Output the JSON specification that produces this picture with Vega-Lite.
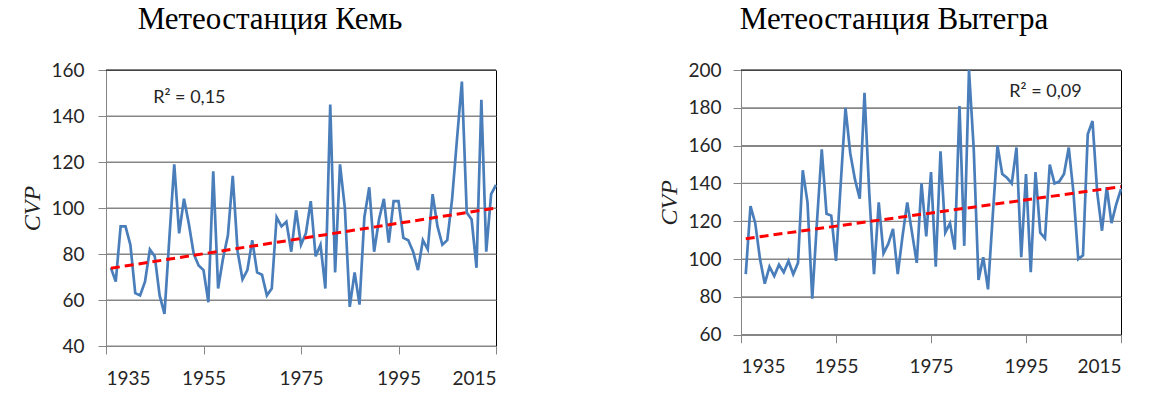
{
  "$schema": "https://vega.github.io/schema/vega-lite/v6.json",
  "background": "white",
  "padding": {"left": 20, "top": 3, "right": 5, "bottom": 5},
  "spacing": 154,
  "config": {
    "view": {"stroke": "black", "strokeWidth": 1},
    "font": "Lato",
    "axis": {
      "labelFont": "Lato",
      "labelFontSize": 19,
      "labelColor": "#262626",
      "labelOverlap": false,
      "tickColor": "#868686",
      "tickSize": 8,
      "domainColor": "#868686",
      "titleFont": "Liberation Serif",
      "titleFontStyle": "italic",
      "titleFontWeight": "normal",
      "titleFontSize": 24,
      "titleColor": "#222222"
    },
    "title": {"font": "Liberation Serif", "fontSize": 31, "fontWeight": "normal", "color": "black", "anchor": "middle", "baseline": "alphabetic"}
  },
  "datasets": {
    "kem": [
      {"year":1936,"cvp":74},{"year":1937,"cvp":68},{"year":1938,"cvp":92},{"year":1939,"cvp":92},{"year":1940,"cvp":84},
      {"year":1941,"cvp":63},{"year":1942,"cvp":62},{"year":1943,"cvp":68},{"year":1944,"cvp":82},{"year":1945,"cvp":79},
      {"year":1946,"cvp":62},{"year":1947,"cvp":54},{"year":1948,"cvp":87},{"year":1949,"cvp":119},{"year":1950,"cvp":89},
      {"year":1951,"cvp":104},{"year":1952,"cvp":93},{"year":1953,"cvp":80},{"year":1954,"cvp":75},{"year":1955,"cvp":73},
      {"year":1956,"cvp":59},{"year":1957,"cvp":116},{"year":1958,"cvp":65},{"year":1959,"cvp":78},{"year":1960,"cvp":88},
      {"year":1961,"cvp":114},{"year":1962,"cvp":81},{"year":1963,"cvp":69},{"year":1964,"cvp":73},{"year":1965,"cvp":86},
      {"year":1966,"cvp":72},{"year":1967,"cvp":71},{"year":1968,"cvp":62},{"year":1969,"cvp":65},{"year":1970,"cvp":96},
      {"year":1971,"cvp":92},{"year":1972,"cvp":94},{"year":1973,"cvp":81},{"year":1974,"cvp":99},{"year":1975,"cvp":84},
      {"year":1976,"cvp":89},{"year":1977,"cvp":103},{"year":1978,"cvp":79},{"year":1979,"cvp":84},{"year":1980,"cvp":65},
      {"year":1981,"cvp":145},{"year":1982,"cvp":72},{"year":1983,"cvp":119},{"year":1984,"cvp":100},{"year":1985,"cvp":57},
      {"year":1986,"cvp":72},{"year":1987,"cvp":58},{"year":1988,"cvp":96},{"year":1989,"cvp":109},{"year":1990,"cvp":81},
      {"year":1991,"cvp":95},{"year":1992,"cvp":104},{"year":1993,"cvp":85},{"year":1994,"cvp":103},{"year":1995,"cvp":103},
      {"year":1996,"cvp":87},{"year":1997,"cvp":86},{"year":1998,"cvp":81},{"year":1999,"cvp":73},{"year":2000,"cvp":86},
      {"year":2001,"cvp":82},{"year":2002,"cvp":106},{"year":2003,"cvp":92},{"year":2004,"cvp":84},{"year":2005,"cvp":86},
      {"year":2006,"cvp":104},{"year":2007,"cvp":130},{"year":2008,"cvp":155},{"year":2009,"cvp":98},{"year":2010,"cvp":95},
      {"year":2011,"cvp":74},{"year":2012,"cvp":147},{"year":2013,"cvp":81},{"year":2014,"cvp":106},{"year":2015,"cvp":110}
    ],
    "vyt": [
      {"year":1936,"cvp":92},{"year":1937,"cvp":128},{"year":1938,"cvp":119},{"year":1939,"cvp":100},{"year":1940,"cvp":87},
      {"year":1941,"cvp":96},{"year":1942,"cvp":91},{"year":1943,"cvp":97},{"year":1944,"cvp":93},{"year":1945,"cvp":99},
      {"year":1946,"cvp":92},{"year":1947,"cvp":98},{"year":1948,"cvp":147},{"year":1949,"cvp":130},{"year":1950,"cvp":79},
      {"year":1951,"cvp":120},{"year":1952,"cvp":158},{"year":1953,"cvp":124},{"year":1954,"cvp":123},{"year":1955,"cvp":99},
      {"year":1956,"cvp":140},{"year":1957,"cvp":180},{"year":1958,"cvp":156},{"year":1959,"cvp":142},{"year":1960,"cvp":132},
      {"year":1961,"cvp":188},{"year":1962,"cvp":135},{"year":1963,"cvp":92},{"year":1964,"cvp":130},{"year":1965,"cvp":103},
      {"year":1966,"cvp":108},{"year":1967,"cvp":116},{"year":1968,"cvp":92},{"year":1969,"cvp":112},{"year":1970,"cvp":130},
      {"year":1971,"cvp":114},{"year":1972,"cvp":98},{"year":1973,"cvp":140},{"year":1974,"cvp":112},{"year":1975,"cvp":146},
      {"year":1976,"cvp":96},{"year":1977,"cvp":157},{"year":1978,"cvp":114},{"year":1979,"cvp":119},{"year":1980,"cvp":105},
      {"year":1981,"cvp":181},{"year":1982,"cvp":107},{"year":1983,"cvp":200},{"year":1984,"cvp":158},{"year":1985,"cvp":89},
      {"year":1986,"cvp":101},{"year":1987,"cvp":84},{"year":1988,"cvp":123},{"year":1989,"cvp":160},{"year":1990,"cvp":145},
      {"year":1991,"cvp":143},{"year":1992,"cvp":140},{"year":1993,"cvp":159},{"year":1994,"cvp":101},{"year":1995,"cvp":145},
      {"year":1996,"cvp":93},{"year":1997,"cvp":146},{"year":1998,"cvp":114},{"year":1999,"cvp":111},{"year":2000,"cvp":150},
      {"year":2001,"cvp":140},{"year":2002,"cvp":141},{"year":2003,"cvp":145},{"year":2004,"cvp":159},{"year":2005,"cvp":135},
      {"year":2006,"cvp":100},{"year":2007,"cvp":102},{"year":2008,"cvp":166},{"year":2009,"cvp":173},{"year":2010,"cvp":135},
      {"year":2011,"cvp":115},{"year":2012,"cvp":138},{"year":2013,"cvp":119},{"year":2014,"cvp":129},{"year":2015,"cvp":137}
    ],
    "kemTrend": [{"year":1936,"cvp":73.8},{"year":2015,"cvp":100}],
    "vytTrend": [{"year":1936,"cvp":110.8},{"year":2015,"cvp":138.3}],
    "kemR2": [{"year":1952.1,"cvp":148,"label":"R² = 0,15"}],
    "vytR2": [{"year":1999.1,"cvp":188.4,"label":"R² = 0,09"}],
    "kemGrid": [
      {"year":1935,"cvp":40,"c":"g"},{"year":2015,"cvp":40,"c":"g"},{"year":1935,"cvp":60,"c":"g"},{"year":2015,"cvp":60,"c":"g"},
      {"year":1935,"cvp":80,"c":"g"},{"year":2015,"cvp":80,"c":"g"},{"year":1935,"cvp":100,"c":"g"},{"year":2015,"cvp":100,"c":"g"},
      {"year":1935,"cvp":120,"c":"g"},{"year":2015,"cvp":120,"c":"g"},{"year":1935,"cvp":140,"c":"g"},{"year":2015,"cvp":140,"c":"g"},
      {"year":1935,"cvp":160,"c":"k"},{"year":2015,"cvp":160,"c":"k"}
    ],
    "vytGrid": [
      {"year":1935,"cvp":60,"c":"g"},{"year":2015,"cvp":60,"c":"g"},{"year":1935,"cvp":80,"c":"g"},{"year":2015,"cvp":80,"c":"g"},
      {"year":1935,"cvp":100,"c":"g"},{"year":2015,"cvp":100,"c":"g"},{"year":1935,"cvp":120,"c":"g"},{"year":2015,"cvp":120,"c":"g"},
      {"year":1935,"cvp":140,"c":"g"},{"year":2015,"cvp":140,"c":"g"},{"year":1935,"cvp":160,"c":"g"},{"year":2015,"cvp":160,"c":"g"},
      {"year":1935,"cvp":180,"c":"g"},{"year":2015,"cvp":180,"c":"g"},{"year":1935,"cvp":200,"c":"k"},{"year":2015,"cvp":200,"c":"k"}
    ]
  },
  "hconcat": [
    {
      "width": 390,
      "height": 276,
      "title": {"text": "Метеостанция Кемь", "dx": -31, "offset": 25.5},
      "layer": [
        {
          "data": {"name": "kemGrid"},
          "mark": {"type": "line", "strokeWidth": 1.2},
          "encoding": {
            "x": {"field": "year", "type": "quantitative",
                  "scale": {"domain": [1935, 2015], "nice": false, "zero": false},
                  "axis": {"values": [1935, 1955, 1975, 1995, 2015], "format": "d", "title": null, "labelPadding": 15, "grid": false}},
            "y": {"field": "cvp", "type": "quantitative",
                  "scale": {"domain": [40, 160], "nice": false, "zero": false},
                  "axis": {"values": [40, 60, 80, 100, 120, 140, 160], "title": "CVP", "labelPadding": 14, "titlePadding": 6, "labelOverlap": false, "grid": true, "gridColor": "#868686", "gridWidth": 1.2}},
            "detail": {"field": "cvp", "type": "nominal"},
            "color": {"field": "c", "type": "nominal", "scale": {"domain": ["g", "k"], "range": ["#868686", "#000000"]}, "legend": null}
          }
        },
        {
          "data": {"name": "kem"},
          "mark": {"type": "line", "color": "#4a7ebb", "strokeWidth": 2.7},
          "encoding": {
            "x": {"field": "year", "type": "quantitative",
                  "axis": {"values": [1935, 1955, 1975, 1995, 2015], "format": "d", "title": null, "labelPadding": 15, "grid": false}},
            "y": {"field": "cvp", "type": "quantitative",
                  "axis": {"values": [40, 60, 80, 100, 120, 140, 160], "title": "CVP", "labelPadding": 14, "titlePadding": 6, "labelOverlap": false, "grid": true, "gridColor": "#868686", "gridWidth": 1.2}}
          }
        },
        {
          "data": {"name": "kemTrend"},
          "mark": {"type": "line", "color": "#ff0000", "strokeWidth": 3, "strokeDash": [9, 5]},
          "encoding": {
            "x": {"field": "year", "type": "quantitative",
                  "axis": {"values": [1935, 1955, 1975, 1995, 2015], "format": "d", "title": null, "labelPadding": 15, "grid": false}},
            "y": {"field": "cvp", "type": "quantitative",
                  "axis": {"values": [40, 60, 80, 100, 120, 140, 160], "title": "CVP", "labelPadding": 14, "titlePadding": 6, "labelOverlap": false, "grid": true, "gridColor": "#868686", "gridWidth": 1.2}}
          }
        },
        {
          "data": {"name": "kemR2"},
          "mark": {"type": "text", "font": "Lato", "fontSize": 18, "color": "#262626"},
          "encoding": {
            "x": {"field": "year", "type": "quantitative",
                  "axis": {"values": [1935, 1955, 1975, 1995, 2015], "format": "d", "title": null, "labelPadding": 15, "grid": false}},
            "y": {"field": "cvp", "type": "quantitative",
                  "axis": {"values": [40, 60, 80, 100, 120, 140, 160], "title": "CVP", "labelPadding": 14, "titlePadding": 6, "labelOverlap": false, "grid": true, "gridColor": "#868686", "gridWidth": 1.2}},
            "text": {"field": "label"}
          }
        }
      ]
    },
    {
      "width": 380,
      "height": 264.7,
      "title": {"text": "Метеостанция Вытегра", "dx": -37, "offset": 25.5},
      "layer": [
        {
          "data": {"name": "vytGrid"},
          "mark": {"type": "line", "strokeWidth": 1.2},
          "encoding": {
            "x": {"field": "year", "type": "quantitative",
                  "scale": {"domain": [1935, 2015], "nice": false, "zero": false},
                  "axis": {"values": [1935, 1955, 1975, 1995, 2015], "format": "d", "title": null, "labelPadding": 15, "grid": false}},
            "y": {"field": "cvp", "type": "quantitative",
                  "scale": {"domain": [60, 200], "nice": false, "zero": false},
                  "axis": {"values": [60, 80, 100, 120, 140, 160, 180, 200], "title": "CVP", "labelPadding": 12, "titlePadding": 6, "labelOverlap": false, "grid": true, "gridColor": "#868686", "gridWidth": 1.2}},
            "detail": {"field": "cvp", "type": "nominal"},
            "color": {"field": "c", "type": "nominal", "scale": {"domain": ["g", "k"], "range": ["#868686", "#000000"]}, "legend": null}
          }
        },
        {
          "data": {"name": "vyt"},
          "mark": {"type": "line", "color": "#4a7ebb", "strokeWidth": 2.7},
          "encoding": {
            "x": {"field": "year", "type": "quantitative",
                  "axis": {"values": [1935, 1955, 1975, 1995, 2015], "format": "d", "title": null, "labelPadding": 15, "grid": false}},
            "y": {"field": "cvp", "type": "quantitative",
                  "axis": {"values": [60, 80, 100, 120, 140, 160, 180, 200], "title": "CVP", "labelPadding": 12, "titlePadding": 6, "labelOverlap": false, "grid": true, "gridColor": "#868686", "gridWidth": 1.2}}
          }
        },
        {
          "data": {"name": "vytTrend"},
          "mark": {"type": "line", "color": "#ff0000", "strokeWidth": 3, "strokeDash": [9, 5]},
          "encoding": {
            "x": {"field": "year", "type": "quantitative",
                  "axis": {"values": [1935, 1955, 1975, 1995, 2015], "format": "d", "title": null, "labelPadding": 15, "grid": false}},
            "y": {"field": "cvp", "type": "quantitative",
                  "axis": {"values": [60, 80, 100, 120, 140, 160, 180, 200], "title": "CVP", "labelPadding": 12, "titlePadding": 6, "labelOverlap": false, "grid": true, "gridColor": "#868686", "gridWidth": 1.2}}
          }
        },
        {
          "data": {"name": "vytR2"},
          "mark": {"type": "text", "font": "Lato", "fontSize": 18, "color": "#262626"},
          "encoding": {
            "x": {"field": "year", "type": "quantitative",
                  "axis": {"values": [1935, 1955, 1975, 1995, 2015], "format": "d", "title": null, "labelPadding": 15, "grid": false}},
            "y": {"field": "cvp", "type": "quantitative",
                  "axis": {"values": [60, 80, 100, 120, 140, 160, 180, 200], "title": "CVP", "labelPadding": 12, "titlePadding": 6, "labelOverlap": false, "grid": true, "gridColor": "#868686", "gridWidth": 1.2}},
            "text": {"field": "label"}
          }
        }
      ]
    }
  ]
}
